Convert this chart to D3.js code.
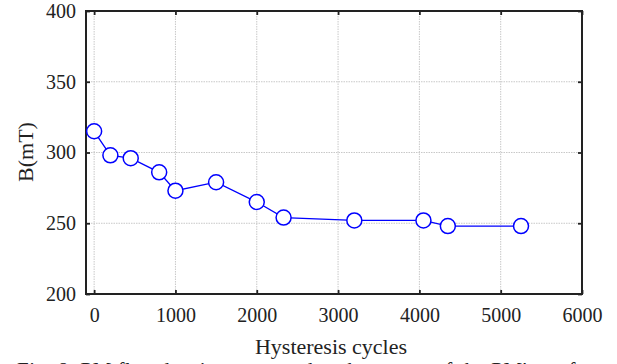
<!DOCTYPE html>
<html>
<head>
<meta charset="utf-8">
<script src="https://cdn.jsdelivr.net/npm/d3@7"></script>
<style>
  body { margin: 0; background: #fff; }
  svg { display: block; }
  svg text { font-family: 'Liberation Serif'; }
</style>
</head>
<body>
<svg id="chart" width="617" height="364" viewBox="0 0 617 364"></svg>
<script>
// data
const cycles = [0, 200, 450, 800, 1000, 1500, 2000, 2330, 3200, 4050, 4350, 5250]
const fluxB  = [315, 298, 296, 286, 273, 279, 265, 254, 252, 252, 248, 248]
const xTicks = [0, 1000, 2000, 3000, 4000, 5000, 6000]
const yTicks = [200, 250, 300, 350, 400]

const svg = d3.select("#chart")
const plotL = 86, plotR = 582, plotT = 11, plotB = 294
const serif = "Liberation Serif"

const x = d3.scaleLinear().domain([-100, 6000]).range([plotL, plotR])
const y = d3.scaleLinear().domain([200, 400]).range([plotB, plotT])

// grid
const grid = svg.append("g")
grid.selectAll(".vg").data(xTicks.filter(d => d < 6000)).enter()
    .append("line")
    .attr("x1", d => x(d)).attr("x2", d => x(d))
    .attr("y1", plotT).attr("y2", plotB)
    .attr("stroke", "#c8c8c8").attr("stroke-width", 1)
    .attr("stroke-dasharray", "1.5,1")
grid.selectAll(".hg").data(yTicks.filter(d => d > 200 && d < 400)).enter()
    .append("line")
    .attr("x1", plotL).attr("x2", plotR)
    .attr("y1", d => y(d)).attr("y2", d => y(d))
    .attr("stroke", "#c8c8c8").attr("stroke-width", 1)
    .attr("stroke-dasharray", "1.5,1")

// axes (inside ticks, mirrored on top and right)
const tickLen = 4
const xAxis = svg.append("g").attr("transform", `translate(0,${plotB})`)
    .call(d3.axisBottom(x).tickValues(xTicks).tickSize(-tickLen).tickPadding(14).tickFormat(d3.format("d")))
const xTop = svg.append("g").attr("transform", `translate(0,${plotT})`)
    .call(d3.axisTop(x).tickValues(xTicks).tickSize(-tickLen).tickFormat(""))
const yAxis = svg.append("g").attr("transform", `translate(${plotL},0)`)
    .call(d3.axisLeft(y).tickValues(yTicks).tickSize(-tickLen).tickPadding(10))
const yRight = svg.append("g").attr("transform", `translate(${plotR},0)`)
    .call(d3.axisRight(y).tickValues(yTicks).tickSize(-tickLen).tickFormat(""))

for (const a of [xAxis, xTop, yAxis, yRight]) {
    a.attr("font-family", serif).attr("font-size", 20)
    a.select(".domain").remove()
    a.selectAll(".tick line").attr("stroke", "#222").attr("stroke-width", 1.8)
    a.selectAll("text").attr("fill", "#222")
}

// frame
svg.append("rect")
    .attr("x", plotL).attr("y", plotT)
    .attr("width", plotR - plotL).attr("height", plotB - plotT)
    .attr("fill", "none").attr("stroke", "#222").attr("stroke-width", 2)

// series
const pts = cycles.map((c, i) => ({c: c, b: fluxB[i]}))
svg.append("path")
    .datum(pts)
    .attr("fill", "none")
    .attr("stroke", "#0000ff")
    .attr("stroke-width", 1.3)
    .attr("d", d3.line().x(d => x(d.c)).y(d => y(d.b)))

svg.append("g").selectAll("circle").data(pts).enter()
    .append("circle")
    .attr("cx", d => x(d.c)).attr("cy", d => y(d.b))
    .attr("r", 7.5)
    .attr("fill", "#fff")
    .attr("stroke", "#0000ff")
    .attr("stroke-width", 1.5)

// labels
svg.append("text")
    .attr("x", 331).attr("y", 354)
    .attr("text-anchor", "middle")
    .attr("font-family", serif).attr("font-size", 22)
    .attr("fill", "#222")
    .text("Hysteresis cycles")

svg.append("text")
    .attr("transform", "translate(33,152) rotate(-90)")
    .attr("text-anchor", "middle")
    .attr("font-family", serif).attr("font-size", 22)
    .attr("fill", "#222")
    .text("B(mT)")

// caption, mostly clipped by the bottom edge
svg.append("text")
    .attr("x", 17).attr("y", 377)
    .attr("font-family", serif).attr("font-size", 21)
    .attr("fill", "#222")
    .attr("textLength", 588)
    .text("Fig. 8. PM flux density measured at the center of the PM's surface")
</script>
</body>
</html>
